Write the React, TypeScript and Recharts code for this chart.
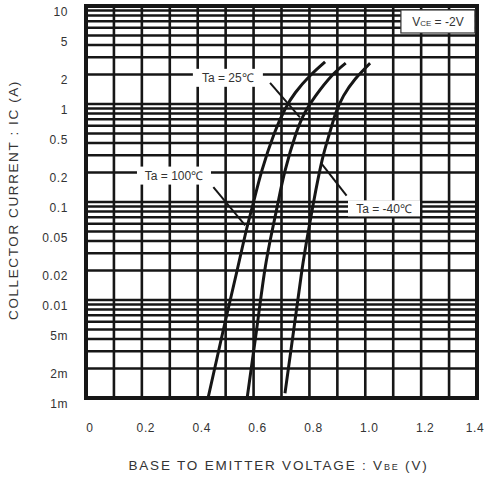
import React from 'react';
import {
  LineChart, Line, XAxis, YAxis, CartesianGrid, ReferenceArea, ReferenceLine, ReferenceDot,
} from 'recharts';

// x grid / labels
const xTicks = [0, 0.1, 0.2, 0.3, 0.4, 0.5, 0.6, 0.7, 0.8, 0.9, 1.0, 1.1, 1.2, 1.3, 1.4];
const xTickLabels = ['0', '', '0.2', '', '0.4', '', '0.6', '', '0.8', '', '1.0', '', '1.2', '', '1.4'];

// y grid (log) / labels
const yTicks = [
  0.001, 0.002, 0.003, 0.004, 0.005, 0.006, 0.007, 0.008, 0.009,
  0.01, 0.02, 0.03, 0.04, 0.05, 0.06, 0.07, 0.08, 0.09,
  0.1, 0.2, 0.3, 0.4, 0.5, 0.6, 0.7, 0.8, 0.9,
  1, 2, 3, 4, 5, 6, 7, 8, 9, 10,
];
const yTickLabels = [
  '1m', '2m', '', '', '5m', '', '', '', '',
  '0.01', '0.02', '', '', '0.05', '', '', '', '',
  '0.1', '0.2', '', '', '0.5', '', '', '', '',
  '1', '2', '', '', '5', '', '', '', '', '10',
];

// Ta = 100C
const vbe100 = [0.437, 0.492, 0.541, 0.573, 0.600, 0.630, 0.674, 0.713, 0.750, 0.802, 0.856];
const ic100 = [0.001, 0.005, 0.02, 0.05, 0.1, 0.21, 0.5, 0.89, 1.31, 1.94, 2.69];
// Ta = 25C
const vbe25 = [0.577, 0.611, 0.640, 0.666, 0.688, 0.713, 0.752, 0.784, 0.822, 0.880, 0.930];
const ic25 = [0.001, 0.005, 0.02, 0.05, 0.1, 0.21, 0.5, 0.82, 1.21, 1.94, 2.61];
// Ta = -40C
const vbeM40 = [0.7125, 0.744, 0.773, 0.796, 0.815, 0.845, 0.872, 0.893, 0.922, 0.964, 1.017];
const icM40 = [0.00112, 0.005, 0.02, 0.05, 0.1, 0.264, 0.5, 0.79, 1.21, 1.8, 2.61];

const toPts = (v: number[], i: number[]) => v.map((x, k) => ({ v: x, i: i[k] }));

const FONT = '"Liberation Sans", Arial, sans-serif';
const INK = '#161616';

const notes = [
  { text: 'Ta = 25℃', x: 0.508, y: 1.85, w: 70, h: 18, from: { x: 0.659, y: 1.64 }, to: { x: 0.766, y: 0.73 } },
  { text: 'Ta = 100℃', x: 0.315, y: 0.186, w: 74, h: 18, from: { x: 0.456, y: 0.1416 }, to: { x: 0.57, y: 0.0577 } },
  { text: 'Ta = -40℃', x: 1.067, y: 0.086, w: 72, h: 16, from: { x: 0.844, y: 0.245 }, to: { x: 0.933, y: 0.116 } },
];

function XTick(props: any) {
  const { x, y, index } = props;
  const label = xTickLabels[index] ?? '';
  if (!label) return <g />;
  const dx = index === xTicks.length - 1 ? -2 : 4;
  return (
    <text x={x + dx} y={y} dy="0.71em" textAnchor="middle" fontSize={12} fill="#333" fontFamily={FONT} letterSpacing={0.6}>
      {label}
    </text>
  );
}

function YTick(props: any) {
  const { x, y, payload } = props;
  const idx = yTicks.findIndex((t) => Math.abs(t - payload.value) < t * 1e-6);
  const label = yTickLabels[idx];
  if (!label) return <g />;
  return (
    <text x={x} y={y} dy={10} textAnchor="end" fontSize={12} fill="#333" fontFamily={FONT} letterSpacing={0.6}>
      {label}
    </text>
  );
}

function NoteBox(text: string, w: number, h: number) {
  return (props: any) => {
    const { cx, cy } = props;
    return (
      <g>
        <rect x={cx - w / 2} y={cy - h / 2} width={w} height={h} fill="#fff" />
        <text x={cx} y={cy + 4.5} textAnchor="middle" fontSize={12} fill="#333" fontFamily={FONT}>{text}</text>
      </g>
    );
  };
}

function VceBox(props: any) {
  const { cx, cy } = props;
  return (
    <g>
      <rect x={cx - 37} y={cy - 11.5} width={74} height={23} fill="#fff" stroke="#333" strokeWidth={1.2} />
      <text x={cx} y={cy + 4.5} textAnchor="middle" fontSize={12} fill="#333" fontFamily={FONT}>
        V<tspan fontSize={8}>CE</tspan> = -2V
      </text>
    </g>
  );
}

function XTitle(props: any) {
  const { viewBox } = props;
  const cx = viewBox.x + viewBox.width / 2 - 3;
  return (
    <text x={cx} y={470} textAnchor="middle" fontSize={13.5} fill="#333" fontFamily={FONT} letterSpacing={1.8}>
      BASE TO EMITTER VOLTAGE : V<tspan fontSize={9}>BE</tspan> (V)
    </text>
  );
}

function YTitle() {
  return (
    <text x={18} y={200} transform="rotate(-90 18 200)" textAnchor="middle" fontSize={13.5} fill="#333" fontFamily={FONT} letterSpacing={1.6}>
      COLLECTOR CURRENT : IC (A)
    </text>
  );
}

export default function App() {
  return (
    <div style={{ position: 'absolute', left: 0, top: 0, width: 486, height: 477, background: '#fff', overflow: 'hidden' }}>
      <LineChart width={486} height={477} margin={{ top: 6, right: 9, bottom: 0, left: 0 }}>
        <CartesianGrid stroke={INK} strokeWidth={2.6} />
        <XAxis
          dataKey="v" type="number" domain={[0, 1.4]} ticks={xTicks} height={79}
          axisLine={false} tickLine={false} tickSize={0} tickMargin={25} tick={<XTick />}
          interval={0} allowDataOverflow label={<XTitle />}
        />
        <YAxis
          dataKey="i" type="number" scale="log" domain={[0.001, 10]} ticks={yTicks} width={86}
          axisLine={false} tickLine={false} tickSize={0} tickMargin={18} tick={<YTick />}
          interval={0} allowDataOverflow label={<YTitle />}
        />
        <ReferenceArea x1={0} x2={1.4} y1={0.001} y2={10} fill="none" fillOpacity={0} stroke={INK} strokeWidth={4} />
        {notes.map((n) => (
          <ReferenceLine key={n.text + 'l'} segment={[n.from, n.to]} stroke={INK} strokeWidth={2} />
        ))}
        {notes.map((n) => (
          <ReferenceDot key={n.text} x={n.x} y={n.y} r={1} shape={NoteBox(n.text, n.w, n.h)} />
        ))}
        <ReferenceDot x={1.26} y={6.95} r={1} shape={VceBox} />
        <Line data={toPts(vbe100, ic100)} dataKey="i" type="natural" stroke={INK} strokeWidth={3} dot={false} isAnimationActive={false} />
        <Line data={toPts(vbe25, ic25)} dataKey="i" type="natural" stroke={INK} strokeWidth={3} dot={false} isAnimationActive={false} />
        <Line data={toPts(vbeM40, icM40)} dataKey="i" type="natural" stroke={INK} strokeWidth={3} dot={false} isAnimationActive={false} />
      </LineChart>
    </div>
  );
}
